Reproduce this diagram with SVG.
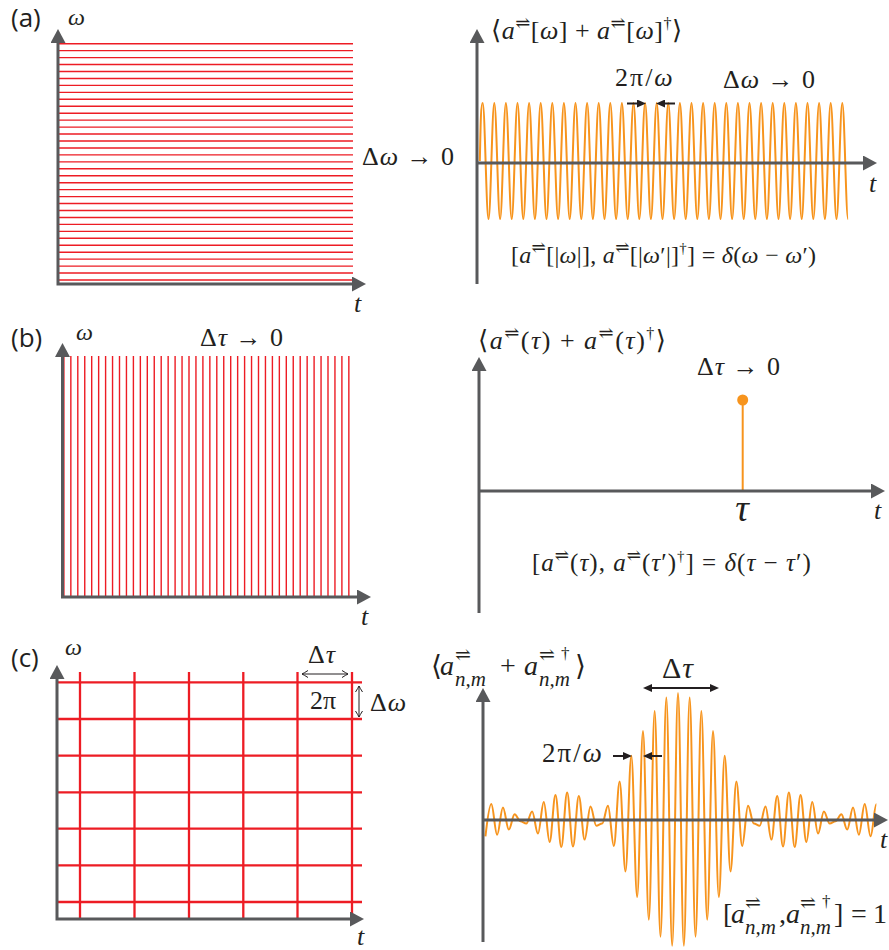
<svg xmlns="http://www.w3.org/2000/svg" width="889" height="950" viewBox="0 0 889 950">
<style>
.ax{stroke:#58595b;stroke-width:3;fill:none;marker-end:url(#ax)}
.red{stroke:#ed1c24;stroke-width:1.4;fill:none}
.grid{stroke:#ed1c24;stroke-width:2.3;fill:none}
.wave{stroke:#f7941d;stroke-width:2;fill:none;stroke-linejoin:round}
.pl{font-family:"Open Sans","Noto Sans",sans-serif;font-size:26px;fill:#231f20}
.m{font-family:"Liberation Serif","DejaVu Serif",serif;fill:#231f20}
.i{font-style:italic}
.sup{font-family:"DejaVu Serif","Liberation Serif",serif}
.blk{stroke:#231f20;stroke-width:2;fill:none}
.thin{stroke:#231f20;stroke-width:1;fill:none}
</style>
<defs>
<marker id="ax" markerUnits="userSpaceOnUse" viewBox="0 0 14 15" markerWidth="14" markerHeight="15" refX="0" refY="7.5" orient="auto-start-reverse"><path d="M0,0 L14,7.5 L0,15 z" fill="#58595b"/></marker>
<marker id="sa" markerUnits="userSpaceOnUse" viewBox="0 0 9 8" markerWidth="9" markerHeight="8" refX="0" refY="4" orient="auto-start-reverse"><path d="M0,0 L9,4 L0,8 z" fill="#231f20"/></marker>
<marker id="oa" markerUnits="userSpaceOnUse" viewBox="-8 -5 9 10" markerWidth="9" markerHeight="10" refX="0" refY="0" orient="auto-start-reverse"><path d="M-6,-3.5 Q-2,-1 0,0 Q-2,1 -6,3.5" fill="none" stroke="#231f20" stroke-width="1"/></marker>
</defs>

<g id="panel-a-left">
<text class="pl" x="11" y="27">(a)</text>
<path class="red" d="M58,43.7 h295 m-295,6.95 h295 m-295,6.95 h295 m-295,6.95 h295 m-295,6.95 h295 m-295,6.95 h295 m-295,6.95 h295 m-295,6.95 h295 m-295,6.95 h295 m-295,6.95 h295 m-295,6.95 h295 m-295,6.95 h295 m-295,6.95 h295 m-295,6.95 h295 m-295,6.95 h295 m-295,6.95 h295 m-295,6.95 h295 m-295,6.95 h295 m-295,6.95 h295 m-295,6.95 h295 m-295,6.95 h295 m-295,6.95 h295 m-295,6.95 h295 m-295,6.95 h295 m-295,6.95 h295 m-295,6.95 h295 m-295,6.95 h295 m-295,6.95 h295 m-295,6.95 h295 m-295,6.95 h295 m-295,6.95 h295 m-295,6.95 h295 m-295,6.95 h295 m-295,6.95 h295 m-295,6.95 h295"/>
<path class="ax" style="marker-start:url(#ax)" d="M58,43 V284 H352"/>
<text class="m i" x="68" y="25" font-size="24">ω</text>
<text class="m i" x="354" y="312" font-size="26">t</text>
</g>

<g id="panel-a-right">
<path class="wave" d="M479.8,161 C480.5,135 480.6,103 482.7,103
s3.69,116 5.8,116 s3.69,-116 5.8,-116 s3.69,116 5.8,116 s3.69,-116 5.8,-116 s3.69,116 5.8,116 s3.69,-116 5.8,-116 s3.69,116 5.8,116 s3.69,-116 5.8,-116 s3.69,116 5.8,116 s3.69,-116 5.8,-116
s3.69,116 5.8,116 s3.69,-116 5.8,-116 s3.69,116 5.8,116 s3.69,-116 5.8,-116 s3.69,116 5.8,116 s3.69,-116 5.8,-116 s3.69,116 5.8,116 s3.69,-116 5.8,-116 s3.69,116 5.8,116 s3.69,-116 5.8,-116
s3.69,116 5.8,116 s3.69,-116 5.8,-116 s3.69,116 5.8,116 s3.69,-116 5.8,-116 s3.69,116 5.8,116 s3.69,-116 5.8,-116 s3.69,116 5.8,116 s3.69,-116 5.8,-116 s3.69,116 5.8,116 s3.69,-116 5.8,-116
s3.69,116 5.8,116 s3.69,-116 5.8,-116 s3.69,116 5.8,116 s3.69,-116 5.8,-116 s3.69,116 5.8,116 s3.69,-116 5.8,-116 s3.69,116 5.8,116 s3.69,-116 5.8,-116 s3.69,116 5.8,116 s3.69,-116 5.8,-116
s3.69,116 5.8,116 s3.69,-116 5.8,-116 s3.69,116 5.8,116 s3.69,-116 5.8,-116 s3.69,116 5.8,116 s3.69,-116 5.8,-116 s3.69,116 5.8,116 s3.69,-116 5.8,-116 s3.69,116 5.8,116 s3.69,-116 5.8,-116
s3.69,116 5.8,116 s3.69,-116 5.8,-116 s3.69,116 5.8,116 s3.69,-116 5.8,-116 s3.69,116 5.8,116 s3.69,-116 5.8,-116 s3.69,116 5.8,116 s3.69,-116 5.8,-116 s3.69,116 5.8,116 s3.69,-116 5.8,-116
s3.69,116 5.8,116 s3.69,-116 5.8,-116
s3.69,116 5.8,116"/>
<path class="ax" d="M477,284 V43"/>
<path class="ax" d="M477,163 H863"/>
<text class="m" x="491" y="39" font-size="26" letter-spacing="0.5">⟨<tspan class="i">a</tspan><tspan class="sup" font-size="18" dy="-10">⇌</tspan><tspan dy="10">[</tspan><tspan class="i">ω</tspan>] + <tspan class="i">a</tspan><tspan class="sup" font-size="18" dy="-10">⇌</tspan><tspan dy="10">[</tspan><tspan class="i">ω</tspan>]<tspan font-size="16" dy="-10">†</tspan><tspan dy="10">⟩</tspan></text>
<text class="m" x="615" y="86" font-size="26" letter-spacing="2">2π/<tspan class="i">ω</tspan></text>
<text class="m" x="723" y="88" font-size="26" letter-spacing="1">Δ<tspan class="i">ω</tspan> → 0</text>
<path class="blk" style="marker-end:url(#sa)" d="M627,103.5 H637"/>
<path class="blk" style="marker-end:url(#sa)" d="M675,103.5 H665"/>
<text class="m" x="362" y="165" font-size="26" letter-spacing="1">Δ<tspan class="i">ω</tspan> → 0</text>
<text class="m i" x="869" y="192" font-size="26">t</text>
<text class="m" x="511" y="263" font-size="24" letter-spacing="0.3">[<tspan class="i">a</tspan><tspan class="sup" font-size="17" dy="-10">⇌</tspan><tspan dy="10">[|</tspan><tspan class="i">ω</tspan>|], <tspan class="i">a</tspan><tspan class="sup" font-size="17" dy="-10">⇌</tspan><tspan dy="10">[|</tspan><tspan class="i">ω</tspan>′|]<tspan font-size="15" dy="-10">†</tspan><tspan dy="10">] = </tspan><tspan class="i">δ</tspan>(<tspan class="i">ω</tspan> − <tspan class="i">ω</tspan>′)</text>
</g>

<g id="panel-b-left">
<text class="pl" x="11" y="347">(b)</text>
<path class="red" d="M63.9,356 v241 m6.95,-241 v241 m6.95,-241 v241 m6.95,-241 v241 m6.95,-241 v241 m6.95,-241 v241 m6.95,-241 v241 m6.95,-241 v241 m6.95,-241 v241 m6.95,-241 v241 m6.95,-241 v241 m6.95,-241 v241 m6.95,-241 v241 m6.95,-241 v241 m6.95,-241 v241 m6.95,-241 v241 m6.95,-241 v241 m6.95,-241 v241 m6.95,-241 v241 m6.95,-241 v241 m6.95,-241 v241 m6.95,-241 v241 m6.95,-241 v241 m6.95,-241 v241 m6.95,-241 v241 m6.95,-241 v241 m6.95,-241 v241 m6.95,-241 v241 m6.95,-241 v241 m6.95,-241 v241 m6.95,-241 v241 m6.95,-241 v241 m6.95,-241 v241 m6.95,-241 v241 m6.95,-241 v241 m6.95,-241 v241 m6.95,-241 v241 m6.95,-241 v241 m6.95,-241 v241 m6.95,-241 v241 m6.95,-241 v241 m6.95,-241 v241"/>
<path class="ax" style="marker-start:url(#ax)" d="M62.5,357 V597 H357"/>
<text class="m i" x="76" y="340" font-size="24">ω</text>
<text class="m" x="200" y="346" font-size="26" letter-spacing="1">Δ<tspan class="i">τ</tspan> → 0</text>
<text class="m i" x="361" y="625" font-size="26">t</text>
</g>

<g id="panel-b-right">
<line x1="742.7" y1="491" x2="742.7" y2="400" stroke="#f7941d" stroke-width="2"/>
<circle cx="742.7" cy="400" r="5.5" fill="#f7941d"/>
<path class="ax" d="M479,613 V371"/>
<path class="ax" d="M479,491 H871"/>
<text class="m" x="478" y="349" font-size="26" letter-spacing="1.5">⟨<tspan class="i">a</tspan><tspan class="sup" font-size="18" dy="-10">⇌</tspan><tspan dy="10">(</tspan><tspan class="i">τ</tspan>) + <tspan class="i">a</tspan><tspan class="sup" font-size="18" dy="-10">⇌</tspan><tspan dy="10">(</tspan><tspan class="i">τ</tspan>)<tspan font-size="16" dy="-10">†</tspan><tspan dy="10">⟩</tspan></text>
<text class="m" x="697" y="375" font-size="26" letter-spacing="1">Δ<tspan class="i">τ</tspan> → 0</text>
<text class="m i" x="742" y="521" font-size="38" text-anchor="middle">τ</text>
<text class="m i" x="874" y="519" font-size="26">t</text>
<text class="m" x="532" y="571" font-size="25" letter-spacing="1">[<tspan class="i">a</tspan><tspan class="sup" font-size="17" dy="-10">⇌</tspan><tspan dy="10">(</tspan><tspan class="i">τ</tspan>), <tspan class="i">a</tspan><tspan class="sup" font-size="17" dy="-10">⇌</tspan><tspan dy="10">(</tspan><tspan class="i">τ</tspan>′)<tspan font-size="15" dy="-10">†</tspan><tspan dy="10">] = </tspan><tspan class="i">δ</tspan>(<tspan class="i">τ</tspan> − <tspan class="i">τ</tspan>′)</text>
</g>

<g id="panel-c-left">
<text class="pl" x="11" y="667">(c)</text>
<path class="grid" d="M57,682.3 H362 M57,719 H362 M57,755.7 H362 M57,792.3 H362 M57,828.7 H362 M57,865.3 H362 M57,902 H362 M80,672 V920 M134.5,672 V920 M189,672 V920 M243.3,672 V920 M297.5,672 V920 M352,672 V920"/>
<path class="ax" style="marker-start:url(#ax)" d="M57,679 V919 H350"/>
<text class="m i" x="65" y="655" font-size="24">ω</text>
<text class="m" x="308" y="663" font-size="26" letter-spacing="1">Δ<tspan class="i">τ</tspan></text>
<path class="thin" style="marker-start:url(#oa);marker-end:url(#oa)" d="M302,674 H348"/>
<text class="m" x="310" y="709" font-size="26">2π</text>
<path class="thin" style="marker-start:url(#oa);marker-end:url(#oa)" d="M359,686 V717"/>
<text class="m" x="370" y="711" font-size="26" letter-spacing="1">Δ<tspan class="i">ω</tspan></text>
<text class="m i" x="357" y="945" font-size="26">t</text>
</g>

<g id="panel-c-right">
<path class="wave" d="M485.45,836.3 S489.16,804 491.28,804 S495,834.7 497.12,834.7 S500.83,807.5 502.95,807.5 S506.67,829.5 508.79,829.5 S512.5,814.3 514.62,814.3 S518.34,821.2 520.46,821.2 S524.17,823.6 526.29,823.6 S530.01,811.4 532.13,811.4 S535.84,833.6 537.96,833.6 S541.68,801.9 543.8,801.9 S547.51,842 549.63,842 S553.35,794.9 555.47,794.9 S559.18,847 561.3,847 S565.02,792.4 567.14,792.4 S570.85,846.6 572.97,846.6 S576.69,795.9 578.81,795.9 S582.52,839.6 584.64,839.6 S588.36,806.5 590.48,806.5 S594.19,825.7 596.31,825.7 S600.03,823.6 602.15,823.6 S605.86,805.8 607.98,805.8 S611.7,846 613.82,846 S617.53,781.6 619.65,781.6 S623.37,871.4 625.49,871.4 S629.2,755.7 631.32,755.7 S635.04,897 637.16,897 S640.87,731.1 642.99,731.1 S646.71,919.7 648.83,919.7 S652.54,710.9 654.66,710.9 S658.38,936.7 660.5,936.7 S664.21,697.6 666.33,697.6 S670.05,945.8 672.17,945.8 S675.88,693 678,693 S681.72,945.8 683.84,945.8 S687.55,697.6 689.67,697.6 S693.39,936.7 695.51,936.7 S699.22,710.9 701.34,710.9 S705.06,919.7 707.18,919.7 S710.89,731.1 713.01,731.1 S716.73,897 718.85,897 S722.56,755.7 724.68,755.7 S728.4,871.4 730.52,871.4 S734.23,781.6 736.35,781.6 S740.07,846 742.19,846 S745.9,805.8 748.02,805.8 S751.74,823.6 753.86,823.6 S757.57,825.7 759.69,825.7 S763.41,806.5 765.53,806.5 S769.24,839.6 771.36,839.6 S775.08,795.9 777.2,795.9 S780.91,846.6 783.03,846.6 S786.75,792.4 788.87,792.4 S792.58,847 794.7,847 S798.42,794.9 800.54,794.9 S804.25,842 806.37,842 S810.09,801.9 812.21,801.9 S815.92,833.6 818.04,833.6 S821.76,811.4 823.88,811.4 S827.59,823.6 829.71,823.6 S833.43,821.2 835.55,821.2 S839.26,814.3 841.38,814.3 S845.1,829.5 847.22,829.5 S850.93,807.5 853.05,807.5 S856.77,834.7 858.89,834.7 S862.6,804 864.72,804 S868.44,836.3 870.56,836.3 S874.27,804.3 876.39,804.3"/>
<path class="ax" d="M483,942 V702"/>
<path class="ax" d="M483,820 H874"/>
<text class="m" font-size="28"><tspan x="431" y="675">⟨</tspan><tspan x="440" y="675" class="i">a</tspan><tspan x="455" y="661" class="sup" font-size="19">⇌</tspan><tspan x="455" y="686" class="i" font-size="21">n,m</tspan><tspan x="500" y="675">+</tspan><tspan x="524" y="675" class="i">a</tspan><tspan x="539" y="661" class="sup" font-size="19">⇌</tspan><tspan x="561" y="659" font-size="17">†</tspan><tspan x="539" y="686" class="i" font-size="21">n,m</tspan><tspan x="575" y="675">⟩</tspan></text>
<text class="m" x="662" y="678" font-size="30" letter-spacing="1">Δ<tspan class="i">τ</tspan></text>
<path class="blk" style="marker-start:url(#sa);marker-end:url(#sa)" d="M652,688 H710"/>
<text class="m" x="542" y="762" font-size="27" letter-spacing="2">2π/<tspan class="i">ω</tspan></text>
<path class="blk" style="marker-end:url(#sa)" d="M613,756 H623"/>
<path class="blk" style="marker-end:url(#sa)" d="M662,756 H652"/>
<text class="m i" x="880" y="848" font-size="26">t</text>
<text class="m" font-size="28"><tspan x="723" y="923">[</tspan><tspan x="731" y="923" class="i">a</tspan><tspan x="745" y="909" class="sup" font-size="19">⇌</tspan><tspan x="745" y="934" class="i" font-size="21">n,m</tspan><tspan x="779" y="923">,</tspan><tspan x="786" y="923" class="i">a</tspan><tspan x="800" y="909" class="sup" font-size="19">⇌</tspan><tspan x="822" y="907" font-size="17">†</tspan><tspan x="800" y="934" class="i" font-size="21">n,m</tspan><tspan x="834" y="923">]</tspan><tspan x="851" y="923">=</tspan><tspan x="873" y="923">1</tspan></text>
</g>
</svg>
